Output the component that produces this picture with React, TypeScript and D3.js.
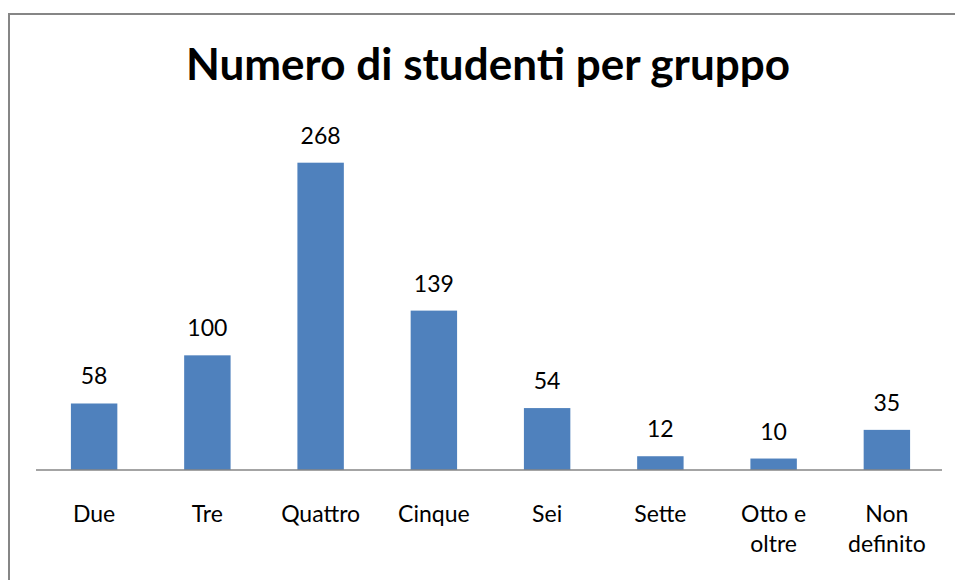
import React from "react";
import * as d3 from "d3";

const categories: string[][] = [
  ["Due"],
  ["Tre"],
  ["Quattro"],
  ["Cinque"],
  ["Sei"],
  ["Sette"],
  ["Otto e", "oltre"],
  ["Non", "definito"],
];
const values: number[] = [58, 100, 268, 139, 54, 12, 10, 35];
const title = "Numero di studenti per gruppo";

const W = 955;
const H = 580;
const FONT = "Lato, 'Open Sans', sans-serif";

export default function App() {
  const keys = categories.map((c) => c.join(" "));
  const x = d3.scaleBand<string>().domain(keys).range([37.5, 943.5]).paddingInner(0.59).paddingOuter(0.295);
  const y = d3.scaleLinear().domain([0, 300]).range([470, 126]);

  return (
    <svg
      width={W}
      height={H}
      style={{ position: "absolute", left: 0, top: 0, background: "#fff" }}
      fontFamily={FONT}
    >
      <rect x={9} y={14} width={W + 20} height={H + 20} fill="#fff" stroke="#868686" strokeWidth={2} />
      <text x={488} y={80} textAnchor="middle" fontSize={44} fontWeight="bold" fill="#000">
        {title}
      </text>
      {values.map((v, i) => {
        const k = keys[i];
        const bx = x(k)!;
        return (
          <g key={k}>
            <rect x={bx} y={y(v)} width={x.bandwidth()} height={y(0) - y(v)} fill="#4F81BD" />
            <text x={bx + x.bandwidth() / 2} y={y(v) - 19} textAnchor="middle" fontSize={23} fill="#000">
              {v}
            </text>
          </g>
        );
      })}
      <line x1={36} x2={942} y1={y(0)} y2={y(0)} stroke="#868686" strokeWidth={1.5} />
      {categories.map((lines, i) => {
        const cx = x(keys[i])! + x.bandwidth() / 2;
        return (
          <text key={keys[i]} x={cx} y={522} textAnchor="middle" fontSize={23} fill="#000">
            {lines.map((l, j) => (
              <tspan key={j} x={cx} y={522 + j * 30}>
                {l}
              </tspan>
            ))}
          </text>
        );
      })}
    </svg>
  );
}
